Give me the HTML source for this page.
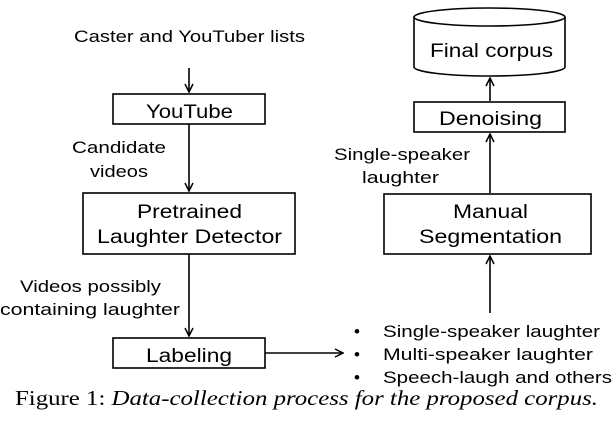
<!DOCTYPE html>
<html><head><style>
body{margin:0;background:#fff;}
svg text{font-family:"Liberation Sans","DejaVu Sans",sans-serif;fill:#000;}
</style></head><body>
<svg width="612" height="416" viewBox="0 0 612 416" xmlns="http://www.w3.org/2000/svg">
<defs><marker id="a" markerWidth="10" markerHeight="10" refX="9" refY="5" orient="auto" markerUnits="userSpaceOnUse"><path d="M1,1 L9,5 L1,9" fill="none" stroke="#000" stroke-width="1.5"/></marker></defs>
<g stroke="#000" stroke-width="1.6" fill="none">
<rect x="113" y="94" width="152" height="30"/>
<rect x="83" y="193" width="212" height="61"/>
<rect x="113" y="338" width="152" height="30"/>
<rect x="384" y="194" width="207" height="60"/>
<rect x="414" y="102" width="151" height="30"/>
<path d="M414,17 L414,67 A75.5,9 0 0 0 565,67 L565,17"/>
<ellipse cx="489.5" cy="17" rx="75.5" ry="9"/>
<line x1="189" y1="68" x2="189" y2="92" marker-end="url(#a)"/>
<line x1="189" y1="124" x2="189" y2="191" marker-end="url(#a)"/>
<line x1="189" y1="254" x2="189" y2="336" marker-end="url(#a)"/>
<line x1="265" y1="353" x2="343" y2="353" marker-end="url(#a)"/>
<line x1="490" y1="313" x2="490" y2="256" marker-end="url(#a)"/>
<line x1="490" y1="193" x2="490" y2="134" marker-end="url(#a)"/>
<line x1="490" y1="101" x2="490" y2="78" marker-end="url(#a)"/>
</g>
<g font-size="17" lengthAdjust="spacingAndGlyphs">
<text x="74" y="42" textLength="231" lengthAdjust="spacingAndGlyphs">Caster and YouTuber lists</text>
<text x="146" y="118" textLength="87" lengthAdjust="spacingAndGlyphs" font-size="19">YouTube</text>
<text x="72" y="153" textLength="94" lengthAdjust="spacingAndGlyphs">Candidate</text>
<text x="90" y="177" textLength="58" lengthAdjust="spacingAndGlyphs">videos</text>
<text x="137" y="218" textLength="105" lengthAdjust="spacingAndGlyphs" font-size="19">Pretrained</text>
<text x="97" y="243" textLength="185" lengthAdjust="spacingAndGlyphs" font-size="19">Laughter Detector</text>
<text x="20" y="292" textLength="141" lengthAdjust="spacingAndGlyphs">Videos possibly</text>
<text x="0" y="315" textLength="180" lengthAdjust="spacingAndGlyphs">containing laughter</text>
<text x="146" y="362" textLength="86" lengthAdjust="spacingAndGlyphs" font-size="19">Labeling</text>
<text x="453" y="218" textLength="75" lengthAdjust="spacingAndGlyphs" font-size="19">Manual</text>
<text x="419" y="243" textLength="143" lengthAdjust="spacingAndGlyphs" font-size="19">Segmentation</text>
<text x="439" y="125" textLength="103" lengthAdjust="spacingAndGlyphs" font-size="19">Denoising</text>
<text x="430" y="57" textLength="123" lengthAdjust="spacingAndGlyphs" font-size="19">Final corpus</text>
<text x="334" y="160" textLength="136" lengthAdjust="spacingAndGlyphs">Single-speaker</text>
<text x="362" y="183" textLength="77" lengthAdjust="spacingAndGlyphs">laughter</text>
<text x="354" y="337">•</text><text x="383" y="337" textLength="217" lengthAdjust="spacingAndGlyphs">Single-speaker laughter</text>
<text x="354" y="360">•</text><text x="383" y="360" textLength="210" lengthAdjust="spacingAndGlyphs">Multi-speaker laughter</text>
<text x="354" y="383">•</text><text x="383" y="383" textLength="229" lengthAdjust="spacingAndGlyphs">Speech-laugh and others</text>
</g>
<text x="15" y="405" style="font-family:'Liberation Serif',serif" font-size="21" textLength="583" lengthAdjust="spacingAndGlyphs">Figure 1: <tspan font-style="italic">Data-collection process for the proposed corpus.</tspan></text>
</svg>
</body></html>
